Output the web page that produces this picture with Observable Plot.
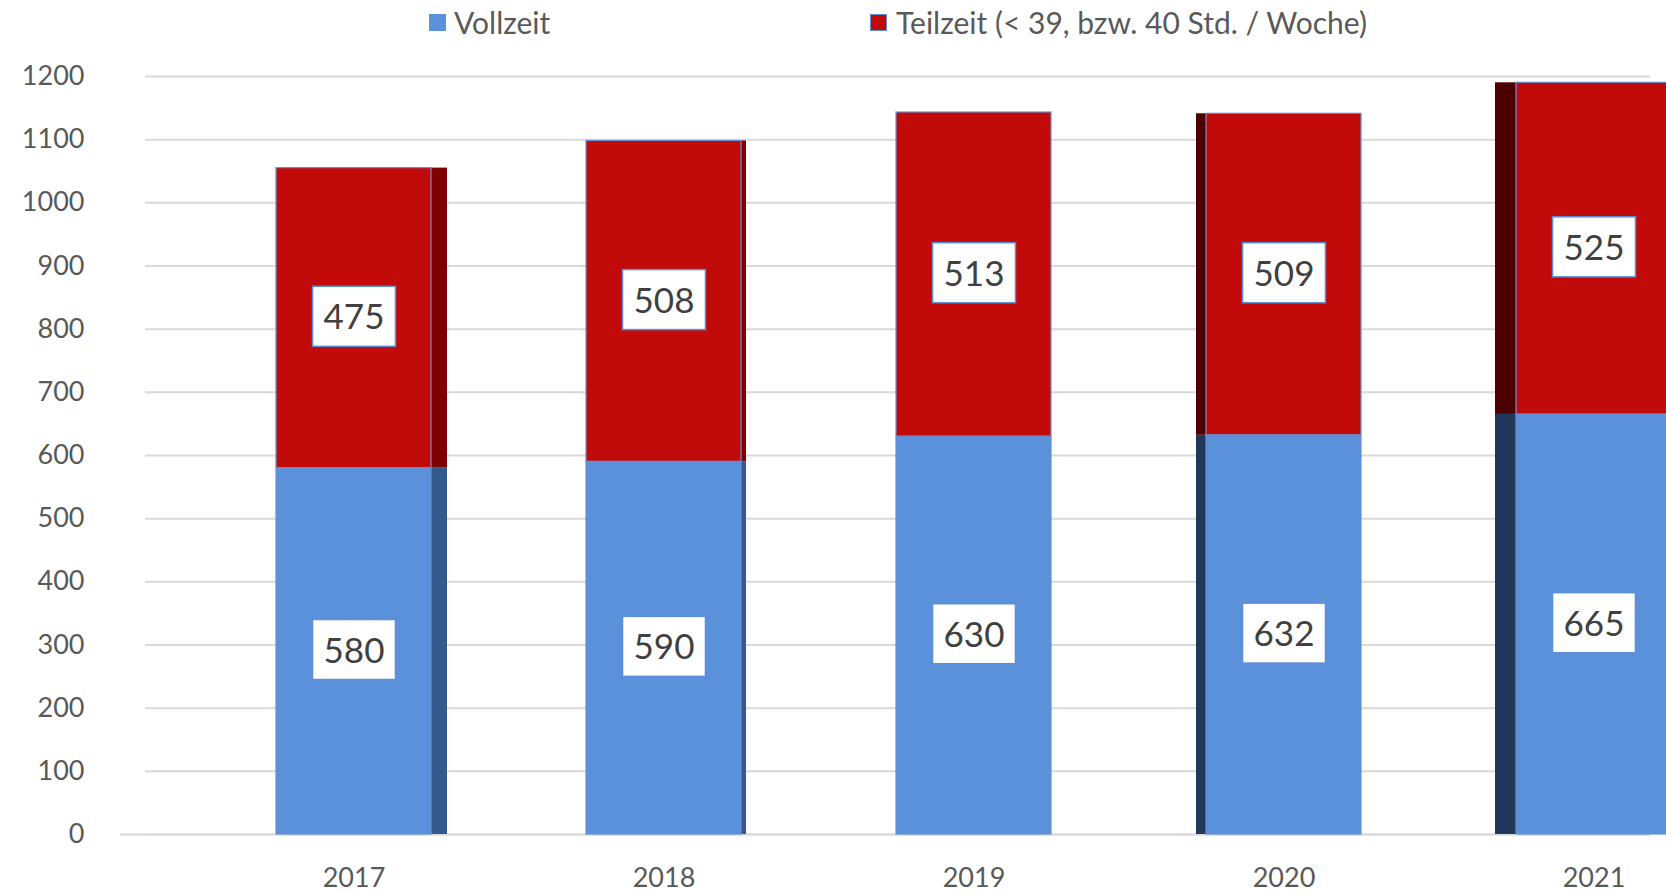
<!DOCTYPE html>
<html>
<head>
<meta charset="utf-8">
<script src="https://cdn.jsdelivr.net/npm/d3@7"></script>
<script src="https://cdn.jsdelivr.net/npm/@observablehq/plot@0.6"></script>
<style>
  html, body { margin: 0; padding: 0; background: #fff; overflow: hidden; }
  #wrap { position: relative; width: 1666px; height: 894px; font-family: Lato, "Open Sans", sans-serif; }
  .lg { position: absolute; font-size: 30px; color: #595959; line-height: 1; white-space: nowrap; z-index: 2; }
  .sw { position: absolute; width: 17px; height: 17px; box-sizing: border-box; z-index: 2; }
</style>
</head>
<body>
<div id="wrap">
  <div id="chart" style="position:absolute;left:0;top:0;z-index:1;"></div>
  <div class="sw" style="left:429px;top:14px;background:#5b90da;"></div>
  <div class="lg" id="lg1" style="left:454px;top:7px;"></div>
  <div class="sw" style="left:870px;top:14px;background:#c30a0a;border:1.5px solid #5b8fd6;"></div>
  <div class="lg" id="lg2" style="left:896px;top:7px;"></div>
</div>
<script>
const years = ["2017", "2018", "2019", "2020", "2021"];
const vollzeit = [580, 590, 630, 632, 665];
const teilzeit = [475, 508, 513, 509, 525];
const seriesNames = ["Vollzeit", "Teilzeit (< 39, bzw. 40 Std. / Woche)"];
const yTicks = [0, 100, 200, 300, 400, 500, 600, 700, 800, 900, 1000, 1100, 1200];

document.getElementById("lg1").textContent = seriesNames[0];
document.getElementById("lg2").textContent = seriesNames[1];

// build stacked table from the arrays
const data = years.flatMap((year, i) => [
  {year, series: seriesNames[0], value: vollzeit[i], y1: 0, y2: vollzeit[i]},
  {year, series: seriesNames[1], value: teilzeit[i], y1: vollzeit[i], y2: vollzeit[i] + teilzeit[i]}
]);

const blue = "#5b90da", red = "#c30a0a";

// decorative 3D side faces
function side(year, series, fill, opts) {
  return Plot.barY(data, {
    filter: d => d.year === year && d.series === series,
    x: "year", y1: "y1", y2: "y2", fill, ...opts
  });
}

const chart = Plot.plot({
  width: 1666,
  height: 894,
  marginLeft: 100,
  marginRight: 16,
  marginTop: 60,
  marginBottom: 60,
  style: {fontFamily: "Lato, 'Open Sans', sans-serif", background: "white", overflow: "hidden"},
  x: {domain: years, range: [196.6, 1750], paddingInner: 0.5, paddingOuter: 0.25, label: null},
  y: {domain: [0, 1200], range: [834, 76], label: null},
  color: {domain: seriesNames, range: [blue, red]},
  marks: [
    Plot.gridY(yTicks, {stroke: "#d9d9d9", strokeOpacity: 1, strokeWidth: 2, insetLeft: 45}),
    Plot.ruleY([0], {stroke: "#d9d9d9", strokeWidth: 2, insetLeft: 20}),
    side("2017", seriesNames[0], "#34598c", {insetRight: -16}),
    side("2017", seriesNames[1], "#7e0000", {insetRight: -16}),
    side("2018", seriesNames[0], "#34598c", {insetRight: -5}),
    side("2018", seriesNames[1], "#7e0000", {insetRight: -5}),
    side("2020", seriesNames[0], "#22385a", {insetLeft: -10}),
    side("2020", seriesNames[1], "#4d0000", {insetLeft: -10}),
    side("2021", seriesNames[0], "#22385a", {insetLeft: -21}),
    side("2021", seriesNames[1], "#4d0000", {insetLeft: -21}),
    Plot.barY(data, {x: "year", y1: "y1", y2: "y2", fill: "series", stroke: "#6a8fcf", strokeWidth: 1.2}),
    Plot.axisY(yTicks, {tickSize: 0, tickPadding: 16, fontSize: 27, fill: "#595959", label: null, tickFormat: d => String(d)}),
    Plot.axisX({tickSize: 0, tickPadding: 33, fontSize: 27, fill: "#595959", label: null}),
    Plot.text(data, {
      x: "year", y: d => (d.y1 + d.y2) / 2, text: d => String(d.value),
      fontSize: 35, fill: "#404040", className: "vlabel"
    })
  ]
});

document.getElementById("chart").appendChild(chart);

// white boxes with blue border behind value labels
d3.select(chart).selectAll("g.vlabel text").each(function () {
  const t = this;
  const b = t.getBBox();
  const w = b.width + 22, h = 60;
  const cx = b.x + b.width / 2, cy = b.y + b.height / 2 + 1;
  const r = d3.select(t.parentNode).insert("rect", () => t)
    .attr("x", cx - w / 2).attr("y", cy - h / 2)
    .attr("width", w).attr("height", h)
    .attr("fill", "white").attr("stroke", "#5b8fd6").attr("stroke-width", 1.5);
  const tr = t.getAttribute("transform");
  if (tr) r.attr("transform", tr);
});
</script>
</body>
</html>
